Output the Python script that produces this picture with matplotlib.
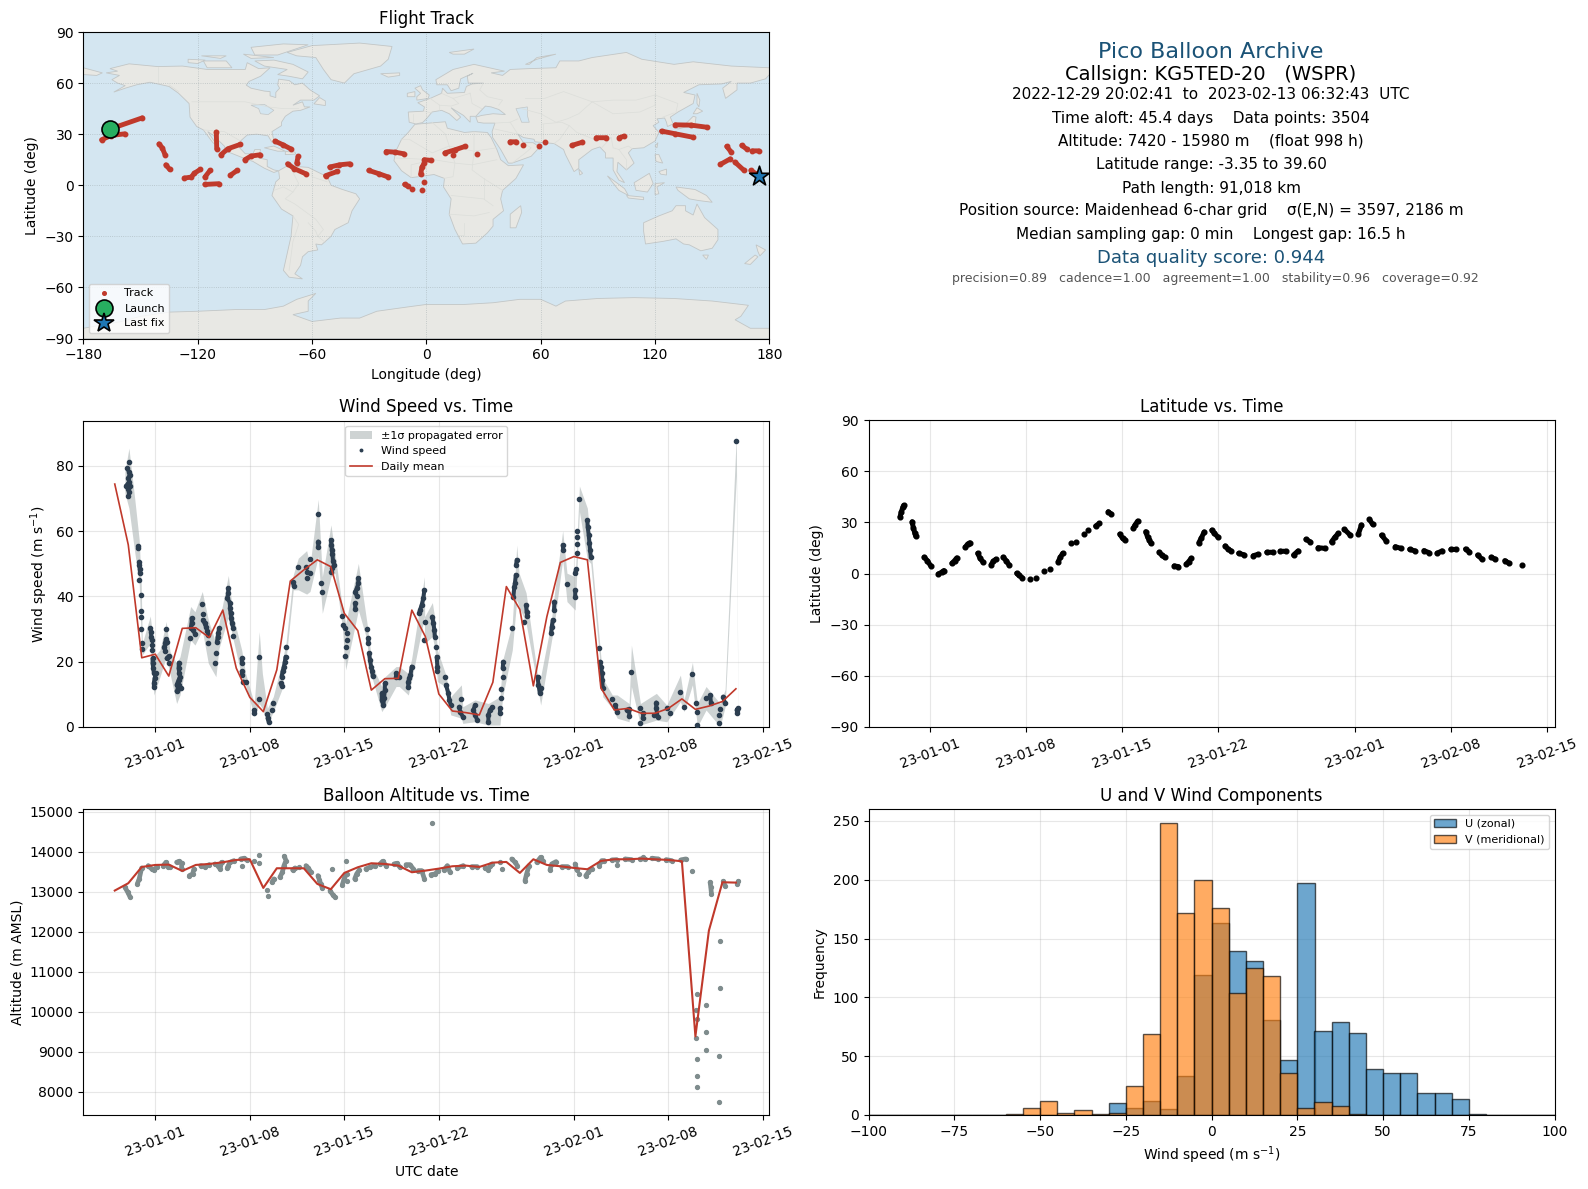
import datetime as dt
import numpy as np
import matplotlib
matplotlib.use("Agg")
import matplotlib.pyplot as plt
import matplotlib.dates as mdates
from matplotlib.lines import Line2D
from matplotlib.patches import Polygon

# ---------- DATA (time = days since 2023-01-01) ----------
wind_runs = [
 [(-1.93,81.3)],
 [(-2.07,79.2),(-1.95,78.2),(-1.90,77.2),(-2.0,76.2),(-1.93,75.1),(-2.05,74.4),(-2.17,73.8),(-1.88,73.8),(-2.0,72.8),(-1.95,72.1)],
 [(-2.0,70.6)],
 [(-1.26,55.4),(-1.26,54.7)],
 [(-1.19,50.6),(-1.19,49.6),(-1.14,48.3),(-1.14,47.1)],
 [(-1.19,45.0)],[(-1.06,40.4)],[(-1.04,35.4)],[(-1.04,33.8)],[(-1.04,29.9)],[(-1.01,25.6)],[(-0.96,23.8)],
 [(-0.37,30.2),(-0.32,29.2),(-0.30,27.7),(-0.25,26.6)],[(-0.27,25.1)],[(-0.22,23.6)],
 [(-0.20,21.0),(-0.20,19.5),(-0.15,18),(-0.10,16.4),(0.05,16.4),(-0.05,14.9),(-0.10,13.6),(-0.10,12.4)],
 [(0.81,29.9)],
 [(0.79,26.9),(0.72,25.6),(0.89,26.1),(0.64,24.4),(0.74,23.4)],[(0.99,21.7),(0.84,21)],[(1.04,19.5)],
 [(1.75,19.7),(1.73,18),(1.78,16.4),(1.83,15.4),(1.73,14.4),(1.58,12.9),(1.93,11.8),(1.58,11)],[(1.78,12.9),(1.66,11.8)],
 [(2.69,33.3),(2.69,31.8),(2.62,30.2)],[(2.81,29.7),(2.94,28.5)],[(2.60,27.4)],
 [(3.48,37.6)],[(3.53,34.5)],[(3.53,32.8),(3.65,31.8),(3.75,30.7),(3.85,29.5),(3.93,28.2)],[(3.93,25.8)],
 [(4.49,22.6)],[(4.44,19.5)],
 [(4.72,30.2),(4.67,28.7),(4.62,27.7),(4.57,26.1)],
 [(5.41,42.5),(5.41,40.9),(5.33,39.4),(5.53,38.1),(5.53,36.3),(5.58,34.8),(5.63,33.3),(5.68,31.8),(5.78,30.2)],[(5.73,27.9)],
 [(6.40,21),(6.42,19.5)],[(6.40,17),(6.45,15.9)],[(6.52,13.9),(6.69,13.7)],
 [(7.33,5.2),(7.33,4.2)],[(7.70,21.5)],[(7.70,8.5)],
 [(8.30,4)],[(8.32,2.7),(8.40,1.6)],[(8.67,5.2)],[(8.74,7.5)],
 [(9.28,13.4),(9.36,12.6)],[(9.36,15.4),(9.43,17),(9.53,18.5),(9.60,20),(9.65,21.5)],[(9.68,24.4)],
 [(10.2,44.5),(10.25,43.2)],[(10.6,48.9)],
 [(11.16,49.1)],[(11.21,47.4)],[(11.21,45.5)],[(11.46,51.4)],[(11.46,47.1)],
 [(12.07,65.2)],[(12.07,56.8),(12.07,55)],[(12.3,44)],[(12.37,41.2)],
 [(13.0,57.3),(13.05,55.7),(13.07,54.2),(13.12,53),(13.16,50.9),(13.24,49.6),(13.12,48.6)],[(12.99,47.6)],
 [(13.85,34.1)],[(13.93,31.2),(14.05,30.2)],[(14.17,28.9)],[(14.17,26.6)],[(14.10,24.4)],[(14.08,21.7)],
 [(15.04,45.5),(15.04,44),(14.93,42.5),(14.81,41.4),(14.93,40.1)],[(14.81,37.9),(14.81,36)],
 [(15.68,29.9)],[(15.78,27.2),(15.78,25.6)],[(15.83,22.6),(15.9,20.5),(15.98,18.5),(16.07,17),(16.1,15.6)],
 [(16.77,10.3),(16.77,8.3),(16.89,6.7),(16.94,8.8),(17,11.3),(17,13.4)],
 [(17.83,16.4),(17.83,15.4),(18.07,15.4)],
 [(18.99,18.5),(18.9,15.9),(18.8,14.9),(18.74,13.9),(18.74,12.4)],
 [(19.93,42),(19.85,39.4),(19.73,37.4),(19.6,35.8),(19.55,34.8)],[(19.95,32.1)],[(19.9,26.6)],
 [(20.52,33.8),(20.59,31.8),(20.67,29.7),(20.7,27.7)],[(20.79,24.6)],[(20.84,21.5),(20.89,18.5),(20.89,17)],
 [(21.48,15.4)],[(21.53,12.9),(21.7,10.3),(21.78,8.3),(21.88,6.7)],
 [(22.52,6.2),(22.57,4.7),(22.77,3.2)],[(22.67,8.5)],
 [(23.68,6.7),(23.56,5.2),(23.68,3.7),(23.85,2.1)],
 [(24.95,6.0),(24.79,5.2),(24.67,3.7),(24.67,1.6)],
 [(25.53,5.7),(25.53,4.2)],[(25.63,8.8)],[(25.63,11.5)],[(25.73,15.2)],[(25.73,18),(25.77,20)],
 [(26.44,30.2)],[(26.52,39.9),(26.59,43),(26.64,44.2),(26.7,46.6)],[(26.72,49.6),(26.77,51.2)],
 [(27.33,32.1)],[(27.46,37.4),(27.5,35.3),(27.56,34)],
 [(28.31,15.4),(28.38,12.9),(28.48,10.3),(28.59,11.8)],
 [(29.31,28.7),(29.36,30.7),(29.44,32.8)],[(29.53,35.8),(29.56,38.4)],
 [(30.17,55.7),(30.22,54.2)],[(30.5,43.8)],
 [(31.09,47.1),(31.16,48.3)],[(31.1,42),(31.1,39.7)],[(31.21,53.2)],[(31.21,55.9)],[(31.26,58.3)],[(31.26,60.1)],
 [(31.41,69.7)],
 [(32.0,63.4),(32.02,61.4),(32.1,58.8),(32.15,56.3),(32.2,54.2),(32.25,52.2)],
 [(32.89,24.1)],[(32.94,20),(33,18.5),(33.09,16.4),(33.1,14.4),(33.14,11.8)],
 [(33.85,8.5)],[(34.05,6.7),(34.21,4.7)],[(34.9,5.2),(35.1,5.5),(35.1,3.4)],
 [(35.26,16.7)],[(35.93,5.7)],[(35.93,1.1)],[(36.15,4.2),(36.1,2.7)],[(36.9,3.7)],[(37.1,7.5),(37.1,5.7),(37.2,3.2)],
 [(37.9,5.7)],[(38.12,4.2)],[(38.89,10.6)],[(39.16,6.2)],[(39.78,16.2)],
 [(40.07,7.2)],[(40.15,4.7)],[(40.1,0.6)],
 [(40.79,8.8)],[(41.1,9.8),(41.15,7.2)],[(41.83,5.4)],[(41.78,3.7)],[(41.78,1.1)],[(42.06,9.3),(42.19,7.2)],
 [(43.0,87.5)],[(43.05,5.2),(43.13,5.7),(43.08,4.4)],
]
band_t = [-2.25,-1.95,-1.51,-1.19,-1.04,-.96,-.37,-.22,-.10,.35,.81,1.09,1.58,1.83,2.62,2.94,3.48,3.93,4.49,4.72,5.41,5.78,6.40,6.69,7.33,7.70,7.93,8.30,8.74,9.36,9.68,10.22,10.59,11.21,11.46,12.07,12.37,13.01,13.31,13.85,14.10,15.04,15.68,15.83,16.10,16.77,17.01,17.83,18.07,18.74,18.99,19.93,19.95,20.52,20.72,20.89,21.48,21.88,22.67,22.77,23.68,24.67,25.53,25.73,26.44,26.77,26.94,27.46,28.31,28.54,29.31,29.56,30.17,30.49,31.10,31.41,32.0,32.25,32.89,33.14,33.85,34.21,35.09,35.26,35.93,37.11,37.88,38.89,39.16,39.78,40.15,40.79,41.83,42.2,43.03,43.15]
band_hi = [78.2,85.4,69.5,57.3,44.0,25.6,34.0,28.7,21.5,23.6,32.3,23.1,19.5,21.5,36.9,35.3,41.5,32.8,25.6,31.8,46.4,33.8,23.6,16.4,7.2,29.2,16.4,5.7,9.3,19.5,25.6,46.6,51.7,54.0,49.6,69.7,46.0,61.9,53.2,36.9,31.8,50.1,31.8,26.6,18.5,12.4,15.4,18.5,18.5,16.4,21.0,46.0,33.8,38.1,32.8,23.6,16.4,9.3,12.9,6.2,8.3,7.2,9.3,20.5,31.8,55.7,47.1,41.1,15.9,15.4,31.8,40.9,60.1,47.1,46.0,73.8,67.0,55.2,26.6,14.9,9.8,9.8,7.2,25.1,7.2,10.3,6.7,15.9,8.3,19.8,7.2,12.4,7.2,11.5,89.6,8.3]
band_lo = [71.6,67.0,53.2,44.0,26.6,22.1,25.6,16.4,9.8,15.4,21.5,16.4,7.2,9.8,26.6,25.1,29.7,19.5,15.4,24.1,33.8,26.6,15.4,12.9,3.2,7.2,5.7,0.6,4.7,11.3,20.5,42.0,42.0,40.7,41.5,52.2,34.8,46.0,47.1,30.7,17.5,35.8,26.6,17.5,14.4,4.7,6.2,12.4,12.4,9.8,14.4,33.8,25.6,27.7,23.6,13.9,12.4,3.7,2.7,1.1,1.6,0.6,0.6,9.3,23.6,38.9,36.9,31.8,12.4,6.7,25.6,31.8,51.2,38.4,35.8,66.0,51.2,50.1,21.5,9.3,5.7,2.7,1.6,12.4,0.6,2.1,1.6,7.8,4.7,12.9,0.1,5.2,0.1,6.2,77.0,2.7]
daily_t = list(range(-3, 44))
wind_daily = [74.4,55.8,21.2,22.3,15.6,30.2,30.4,27.4,35.8,18,9.1,4.7,17.5,44.7,48.1,51.2,49.1,34.8,29.5,11.3,14.8,14.9,35.8,27.7,10.1,4.9,4.4,3.7,13.7,43,36,12.6,33.8,50.4,52.2,51.2,12,5.2,5.7,4.2,4.2,5.7,8.6,5.4,6.4,7.8,11.7]
alt_daily = [13034,13217,13625,13675,13683,13525,13675,13700,13742,13800,13817,13100,13592,13592,13592,13200,13067,13475,13617,13717,13700,13658,13492,13533,13583,13642,13658,13625,13733,13750,13475,13817,13675,13642,13600,13567,13775,13817,13817,13833,13817,13800,13767,9385,12033,13242,13233]
lat_runs = [
 [(-2.15,33.3),(-2.05,36.3),(-1.95,38.8),(-1.89,40)],[(-1.27,30.4),(-1.17,26.5),(-1.07,23.6),(-1.01,22)],
 [(-.39,9.6),(-.16,7.6),(.07,4.7)],[(.65,-0.2),(.88,.8),(1.04,1.8)],[(1.63,6),(1.82,7.6),(1.98,9.2)],
 [(2.6,15.4),(2.77,17.3),(2.93,18.1)],[(3.51,11.9),(3.68,9),(3.91,6.6)],[(4.49,5.3),(4.65,7.2),(4.82,8.4)],
 [(5.37,9.6),(5.6,7.4),(5.79,5.1)],[(6.35,.2),(6.51,-1),(6.74,-2.3)],[(7.35,-3.3)],[(7.74,-2.5)],[(8.33,1.8)],[(8.75,2.7)],
 [(9.37,7),(9.53,9.6),(9.7,11.9)],[(10.32,17.7)],[(10.64,18.5)],[(11.23,23.2)],[(11.55,25.5)],[(12.1,27.9),(12.37,29.4)],
 [(13.02,36.3),(13.24,34.9)],[(13.86,23.2),(14.06,20.7),(14.25,19.7)],[(14.84,26.5),(14.97,28.5),(15.16,30.8)],
 [(15.75,24.6),(15.88,21.6),(16.01,19.7),(16.14,17.7)],[(16.73,12.5),(16.92,10.9),(17.12,9.6)],[(17.83,4.5),(18.13,4.1)],
 [(18.71,5.5),(18.87,7),(19.07,9)],[(19.62,18.1),(19.79,20.7),(20.01,24.4)],[(20.57,25.5),(20.76,23.6),(20.99,21.6)],
 [(21.54,16.2),(21.74,14.4),(21.96,13.3)],[(22.52,11.9),(22.88,11.1)],[(23.59,10.5),(23.92,11.3)],[(24.57,12.5),(24.99,12.5)],
 [(25.55,13.1),(25.94,13.1)],[(26.52,10.9),(26.85,13.3)],[(27.43,20.1),(27.72,18.7)],[(28.31,15.2),(28.8,14.8)],
 [(29.29,18.7),(29.52,21.2),(29.78,23.6)],[(30.23,25.9),(30.65,22.6)],[(31.24,23.2),(31.47,28.5)],[(32.05,31.8),(32.28,28.9)],
 [(32.93,22.6),(33.26,19.3)],[(33.94,15.8),(34.33,14.8)],[(34.98,14.2),(35.37,13.3)],[(36.02,13.5),(36.38,12.3)],
 [(36.98,11.9),(37.33,13.3)],[(37.98,14.2),(38.33,14.2)],[(39.05,14.4),(39.31,12.9)],[(39.93,10.9),(40.25,8.4)],
 [(40.93,9.6),(41.23,8.4)],[(41.91,7.6),(42.24,6)],[(43.18,5.1)],
]
alt_runs = [
 [(-2.25,13117),(-2.05,13000),(-1.88,12883)],[(-1.33,13200),(-1.19,13325),(-1.01,13600)],
 [(-.52,13658),(-.27,13575),(-.1,13550),(.15,13633)],[(.59,13658),(.79,13742),(.96,13633),(1.09,13633)],
 [(1.58,13742),(1.78,13767),(1.95,13717),(1.95,13575)],[(2.52,13408),(2.77,13450),(2.86,13575)],
 [(3.36,13658),(3.68,13633),(4,13683)],[(4.42,13700),(4.67,13658),(4.79,13575),(4.91,13742)],
 [(5.33,13600),(5.41,13658),(5.53,13742),(5.83,13783)],[(6.32,13825),(6.57,13842),(6.77,13800)],[(6.42,13650)],
 [(7.33,13767)],[(7.7,13925)],[(7.7,13725)],[(8.3,13058)],[(8.32,12900)],[(8.64,13242),(8.79,13325)],
 [(9.23,13367),(9.41,13492),(9.53,13658),(9.68,13783),(9.56,13892)],[(10.17,13550),(10.35,13600)],[(10.62,13633)],
 [(11.16,13658),(11.33,13600),(11.5,13508)],[(12.05,13408),(12.15,13300),(12.25,13200),(12.37,13100)],[(13.06,13583)],
 [(12.94,13033),(13.14,12933),(13.31,12867)],[(13.85,13175),(13.98,13325),(14.17,13450)],[(14.22,13283)],[(14.15,13767)],
 [(14.77,13325),(14.91,13450),(15.11,13550)],[(15.6,13575),(15.9,13617),(16.27,13658)],[(16.64,13700),(16.84,13767),(17.09,13658)],
 [(17.68,13700),(17.88,13717),(18.12,13617)],[(18.57,13683),(18.86,13683),(19.11,13575)],[(19.48,13533),(19.73,13533),(19.93,13325)],
 [(20.51,14716)],[(20.42,13433),(20.72,13450),(20.96,13533)],[(21.38,13550),(21.63,13658),(21.83,13492)],[(22.37,13600),(22.81,13658)],
 [(23.43,13633),(23.85,13633)],[(24.42,13600),(24.67,13550),(24.79,13658),(24.91,13700)],[(25.53,13742)],[(25.65,13575)],
 [(26.4,13825),(26.64,13742),(26.81,13658)],[(27.38,13283),(27.5,13450),(27.68,13658)],[(28.25,13742),(28.54,13867),(28.69,13783)],
 [(29.23,13550),(29.36,13700),(29.68,13758)],[(30.1,13633),(30.54,13633)],[(31.09,13700),(31.21,13550)],[(31.41,13450)],
 [(31.88,13408),(32.07,13492),(32.32,13575)],[(32.86,13658),(33.06,13783),(33.26,13783)],[(33.8,13800),(34.17,13808)],[(34.21,13683)],
 [(34.79,13825),(35.28,13808)],[(35.91,13825),(36.27,13825)],[(36.1,13867)],[(36.77,13842),(37.26,13825)],[(37.83,13808),(38.25,13783)],
 [(38.91,13800),(39.28,13825)],[(39.78,13533)],
 [(41.09,13242),(41.14,13117),(41.19,12950)],[(42.07,13267),(42.19,13158)],[(43.11,13200),(43.19,13267)],
 [(40.15,10450)],[(40.05,10035)],[(40.15,9827)],[(40.05,9350)],[(40.15,8825)],[(40.15,8400)],[(40.15,8127)],
 [(40.81,10175)],[(40.81,9500)],[(40.81,9050)],[(41.85,11775)],[(41.85,10600)],[(41.78,8900)],[(41.78,7750)],
]
track_runs = [
 [(-166,33),(-149,39.6)],[(-170.4,26.7),(-165.5,29.2),(-158.3,30.2)],[(-140.3,24.3),(-138.6,22),(-137.1,17.9)],[(-136.7,12),(-134.7,9.3)],
 [(-127,4.2),(-123.4,4.8),(-121.7,7.1),(-118.6,9.3)],[(-116.2,4.8),(-113.5,8.7)],[(-116.2,.5),(-109,.9)],[(-102.9,5.8),(-99.3,8.7)],
 [(-110.2,31.2),(-110,21.4)],[(-107.8,17.9),(-104.2,21.4),(-97.6,24)],[(-95.2,15),(-92.1,17.1),(-87.3,17.9)],[(-79.4,25.9),(-75.3,23.8),(-71.2,21.4)],
 [(-72.8,12.6),(-69.2,9.7),(-63.2,6.7)],[(-68,13),(-67.3,16.9)],[(-52.9,5.6),(-46.8,8.1)],[(-50.7,10.7),(-45.6,12),(-40.3,12.6)],
 [(-30.2,8.7),(-24.7,6.7),(-19.9,4.8)],[(-21.1,19.8),(-16.3,19.4),(-11.9,18.5)],[(-11.4,.5),(-9.8,-.5)],[(-7.4,-2)],[(-2.5,-3)],[(-1.3,1.9)],
 [(-3,6.4),(-2.3,10.7),(-1.1,13)],[(-1.1,15),(2.5,14.6)],[(9.7,19),(15,20.8),(20.3,22.8)],[(13.8,17.9)],[(26.4,18.5)],
 [(43.9,25.5),(47.1,25.5)],[(50.7,23.8)],[(59.1,23.2)],[(62.5,25.5)],[(76.4,23.4),(81.9,25.3)],[(89.2,27.9),(94.5,27.9)],[(101.2,27.9),(103.6,28.8)],
 [(123.4,31.8),(130.6,30.2),(139.8,28.2)],[(130.6,35.5),(139,35.3),(147,34.1)],[(157.6,22.8),(160,19.4)],[(154.2,12.2),(159.5,15.5)],
 [(161.9,13.6),(166.7,8.7)],[(165.5,23.4),(168.4,21)],[(171,20.2),(174.4,20.2)],[(170.3,8.7),(174.4,5.8)],
]
launch_lon, launch_lat = -166.0, 33.1
last_lon, last_lat = 174.4, 5.5

hist_edges = list(range(-100, 100, 5))
u_counts = [0]*14 + [10,6,12,5,33,119,163,139,131,81,47,197,71,79,70,39,36,36,19,19,14,1] + [0]*4
v_counts = [0]*8 + [1,6,12,2,4,1] + [2,25,69,248,172,200,176,104,125,118,36,6,11,8,1] + [0]*11

land_polys = [
 # North America
 [(-168,66),(-162,67),(-166,68.5),(-156,71.3),(-141,69.7),(-128,70),(-115,68),(-108,68),(-95,68),(-94,72),(-88,68.5),(-82,69),(-85,66),(-87,64),(-93,61),(-94.5,58.8),(-92,57),(-85,55.3),(-82,55),(-82,52.5),(-79,51.5),(-79,54.5),(-77,57),(-78,59),(-77.5,62.3),(-72,61.5),(-69,59),(-65,60),(-61,56),(-56,52.5),(-59,50),(-66,50),(-70,47),(-65,49),(-64,46),(-61,46),(-66,44),(-70,43.5),(-74,40.5),(-76,37),(-76,35),(-81,31.5),(-80,26),(-81,25.2),(-83,29),(-89,30),(-94,29.5),(-97.5,26),(-98,22),(-95,18.5),(-91,18.5),(-90,21),(-87,21),(-88,16),(-83.5,15),(-83.5,11),(-80,9),(-77.5,8.5),(-80,7.5),(-85,10),(-91,14),(-96,16),(-105,20),(-106,23),(-112,29.5),(-114.7,31.5),(-112,27),(-109.5,23),(-112,25),(-117,32.5),(-120.5,34.5),(-124,40),(-124.5,48),(-130,54),(-135,58),(-145,60.5),(-152,59),(-158,57),(-164,54.7),(-158,58.5),(-162,60),(-165,62),(-161,64.5)],
 # Greenland and Arctic islands
 [(-73,78),(-60,82),(-35,83.5),(-18,81.5),(-20,74),(-24,70),(-38,65.5),(-43,60),(-50,62),(-54,68),(-58,75),(-68,76)],
 [(-80,73.5),(-70,71),(-62,66.5),(-65,62.5),(-72,64),(-78,65),(-73,68),(-85,70),(-90,73)],
 [(-117,73),(-105,73),(-102,69),(-115,69)],[(-125,74),(-116,73.5),(-120,71.5),(-125,72)],
 [(-90,76.5),(-78,76.5),(-62,82.5),(-75,83),(-92,81)],[(-96,77),(-80,75),(-92,74.5)],[(-118,76),(-105,76),(-108,74.5)],
 [(-59,47.8),(-53,46.8),(-53,49.5),(-56,51.5)],
 [(-85,22),(-80,23),(-74,20),(-78,20)],[(-74,19.8),(-69,19.5),(-68.5,18.3),(-74,18)],
 # South America
 [(-77.5,8.5),(-72,12),(-68,11),(-62,10.5),(-52,5),(-50,0),(-44,-2.5),(-37,-5),(-35,-8),(-39,-15),(-41,-22),(-48,-26),(-50,-30),(-55,-35),(-58,-34.5),(-57,-38),(-62,-39),(-65,-42),(-66,-47),(-69,-52),(-65,-55),(-72,-54),(-75,-50),(-73,-40),(-71,-30),(-70,-18),(-76,-14),(-81,-6),(-80,-2),(-79,2),(-77,4)],
 # Africa, Madagascar
 [(-6,35.8),(10,37.3),(11,33.5),(20,31),(25,31.5),(32,31),(34,28),(37,21),(39,15),(43,11.5),(51,12),(47,4),(40,-3),(39,-8),(40.5,-15),(35,-20),(35,-24),(32,-28),(26,-34),(19,-34.5),(15,-26),(12,-17),(13,-8),(9,-1),(9.5,4),(4,6.3),(-4,5),(-8,4.5),(-13,8.5),(-17,14.5),(-16,20),(-13,27),(-9.5,31)],
 [(49.5,-12),(50,-16),(47,-25),(44,-25),(44,-17)],
 # Eurasia
 [(-9,37),(-9.5,43),(-1.5,43.5),(-1,46),(-4.5,48.5),(2,51),(8,54),(8.5,57),(11,54),(20,54.5),(21,58),(24,59.5),(30,60),(22,60),(21.5,64),(24.5,65.8),(18,62.5),(17,57),(13,55.5),(11,59),(5.5,59),(5,62),(14,68),(25,71),(41,67),(34,66),(40,64.5),(44,68),(54,68.5),(68,69),(70,73),(80,73),(87,75),(105,78),(113,74),(130,71),(140,72.5),(160,70),(180,69),(180,65),(178,62.5),(170,60),(163,60),(163,56),(157,51),(155.5,57),(160,61),(155,59.5),(143,59),(135,54.5),(141,53),(140,48),(132,43),(128,40),(129.5,36),(126.5,34.5),(126,37),(125,39.5),(121,39),(122,37),(119,35),(122,31),(120,26),(114,22),(108,21.5),(106,19),(109,13),(105,9),(100.5,13.5),(100,8),(104,1.5),(101,3),(98,9),(98,16),(94,16),(94,19),(91,22.5),(87,21),(80,15),(80,10),(77.5,8),(73,18),(72,21),(67,24.5),(57,25.5),(56.5,27),(51,28),(48,30),(51,25),(56,25),(59.5,22.5),(55,17),(45,13),(43,13),(39,21),(34.8,28),(34.5,31.5),(36,36.5),(30,36.5),(27,37),(26,40),(29,41),(35,42),(41.5,41.5),(38,44.5),(34,46),(31,46.5),(28,43),(26,40.5),(23,40.5),(23,37),(19.5,41),(13,45.5),(18,40),(16,38),(12,42),(8,44),(3,43),(0,39),(-2,36.8),(-5.5,36)],
 [(-180,69),(-170,66),(-173,64.5),(-180,65)],
 # European and Asian islands
 [(-5,50),(1,51),(1.5,53),(-2,56),(-3,58.5),(-6,57),(-3,54),(-5,52)],[(-10,52),(-6,52),(-6,55),(-10,54)],[(-24,65.5),(-14,66),(-14,64.5),(-20,63.5)],
 [(12,78),(25,80),(20,77),(14,77)],[(52,71),(58,74),(68,77),(58,75),(54,71)],[(142,54),(143.5,50),(143,46),(142,48)],
 [(131,34),(136,36),(140,40.5),(141.5,40),(141,36),(137,34.5),(132,33)],[(140,42),(142,45.5),(145,43.5),(142,42)],
 [(120,23),(121.5,25),(121,22)],[(120,18),(122,18),(124,13),(120.5,14)],[(122,8),(126,9.5),(126,6),(123,6.5)],
 [(109,1.5),(117,7),(119,1),(116,-4),(110,-3)],[(95,5.5),(104,-2),(106,-6),(101,-3)],[(105,-6),(114,-7),(114,-8.5),(106,-7.5)],
 [(120,1),(125,1.5),(121,-1),(122,-5),(120,-5.5)],[(131,-1),(141,-2.5),(147,-6),(150,-10),(143,-9),(138,-8),(132,-3)],
 [(80,9.5),(82,7),(80.5,6)],
 # Australia and New Zealand
 [(114,-22),(122,-18),(129,-15),(131,-12),(136,-12),(136,-15),(140,-17.5),(142,-11),(146,-19),(153,-26),(153,-32),(150,-37),(144,-38.5),(138,-35),(135,-34.5),(131,-31.5),(124,-33),(115,-34.5),(114,-27)],
 [(145,-41),(148,-41),(147,-43.5)],[(173,-35),(178,-38),(175,-41.5),(174,-39)],[(172.5,-41),(174,-42),(170,-46.5),(167,-46)],
 # Antarctica
 [(-180,-90),(-180,-84),(-160,-80),(-150,-77),(-135,-74.5),(-120,-74),(-100,-73),(-85,-73),(-75,-71),(-68,-67),(-58,-63.5),(-62,-68),(-62,-74),(-70,-76),(-60,-80),(-45,-78),(-35,-78),(-26,-74),(-10,-71.5),(0,-70),(20,-70),(35,-69),(49,-67),(60,-67),(68,-71),(73,-68),(90,-66.5),(109,-66),(130,-66.5),(150,-68),(169,-70.5),(165,-77),(162,-79),(170,-84),(180,-84),(180,-90)],
]
water_polys = [
 [(47,45),(53,46),(53,41),(54,37),(50,37),(49,40)],
 [(-92,47),(-85,47.5),(-80,44),(-83,41.5),(-87,42),(-88,45)],
]
border_lines = [
 [(-141,69.7),(-141,60)],[(-135,59),(-130,55)],[(-123,49),(-95,49),(-83,46),(-75,45),(-67,45)],[(-117,32.5),(-106,31.5),(-97.5,26)],
 [(-92,14.5),(-91,18)],[(-72,12),(-67,1),(-70,-4),(-74,-8),(-69,-11),(-58,-20),(-54,-26),(-57,-30),(-53,-33.5)],[(-70,-18),(-67,-23),(-70,-33),(-72,-50)],
 [(-60,8),(-60,5),(-52,2)],[(-80,-3),(-75,-1),(-70,-4)],[(-62,-22),(-58,-27),(-57,-30)],
 [(-13,27),(-9,27),(3,19),(12,23),(25,20),(37,22)],[(25,31.5),(25,20),(24,9),(30,4),(40,-3)],[(3,37),(10,30),(12,23),(15,13),(14,5),(9,4)],[(-16,16),(4,15),(15,13),(24,12),(37,15)],
 [(13,-6),(30,-8),(35,-12)],[(12,-17),(25,-18),(33,-16)],[(20,-22),(20,-29),(17,-29)],[(30,4),(30,-8)],[(-8,4.5),(-8,12),(4,15)],
 [(2,51),(7,47),(7,44)],[(-1.5,43.5),(3,42.5)],[(-7,37),(-7,42)],[(8,54),(14,51),(23,54)],[(14,51),(17,48),(13,46.5),(7,47)],[(23,54),(24,48),(29,45)],[(30,60),(28,56),(32,52),(40,50),(38,47)],
 [(48,30),(44,37),(36,36.5)],[(44,37),(48,39)],[(61,36),(61,25)],[(48,30),(40,32),(36,33)],[(45,13),(52,19),(55,22),(52,24)],[(61,36),(71,37),(75,35),(70,27),(67,24.5)],
 [(75,35),(79,31),(88,27),(97,28),(92,22)],[(97,28),(98,22),(101,21),(106,23),(108,21.5)],[(101,21),(105,15),(105,9)],
 [(50,45),(60,42),(68,37),(74,39),(80,42),(87,49),(98,50),(110,50),(120,53),(132,48),(131,43)],[(87,49),(98,42),(112,43),(120,47),(120,53)],[(124,40),(130,42.5)],[(52,51),(62,51),(72,55),(87,49)],
]
info_title = "Pico Balloon Archive"
info_call = "Callsign: KG5TED-20   (WSPR)"
info_lines = ["2022-12-29 20:02:41  to  2023-02-13 06:32:43  UTC",
 "Time aloft: 45.4 days    Data points: 3504",
 "Altitude: 7420 - 15980 m    (float 998 h)",
 "Latitude range: -3.35 to 39.60",
 "Path length: 91,018 km",
 "Position source: Maidenhead 6-char grid    σ(E,N) = 3597, 2186 m",
 "Median sampling gap: 0 min    Longest gap: 16.5 h"]
info_quality = "Data quality score: 0.944"
info_sub = "precision=0.89   cadence=1.00   agreement=1.00   stability=0.96   coverage=0.92"

# ---------- HELPERS ----------
W, H = 1588, 1189
EPOCH = mdates.date2num(dt.datetime(2023, 1, 1))
RED, NAVY, GREY, BLUE = "#c0392b", "#2c3e50", "#7f8c8d", "#1a5276"

def flat(runs):
    xs, ys = [], []
    for r in runs:
        for p in r:
            xs.append(p[0]); ys.append(p[1])
        xs.append(np.nan); ys.append(np.nan)
    return np.array(xs, float), np.array(ys, float)

def axes_px(x0, x1, y0, y1):
    return fig.add_axes([x0/W, 1-y1/H, (x1-x0)/W, (y1-y0)/H])

def time_axis(ax, x0, x1):
    ax.set_xlim(EPOCH+x0, EPOCH+x1)
    ax.xaxis.set_major_locator(mdates.DayLocator(bymonthday=[1, 8, 15, 22]))
    ax.xaxis.set_major_formatter(mdates.DateFormatter("%y-%m-%d"))
    plt.setp(ax.get_xticklabels(), rotation=20)
    ax.grid(alpha=0.3)

fig = plt.figure(figsize=(W/100, H/100), dpi=100)
L0, L1, R0, R1 = 83.3, 769.4, 868.6, 1554.6

# ---------- MAP ----------
ax = axes_px(L0, L1, 32, 338.5)
ax.set_facecolor("#d4e6f1")
for poly in land_polys:
    ax.add_patch(Polygon(poly, closed=True, fc="#e8e8e4", ec="#c2c6c6", lw=0.6, zorder=1))
for poly in water_polys:
    ax.add_patch(Polygon(poly, closed=True, fc="#d4e6f1", ec="#c2c6c6", lw=0.5, zorder=1.1))
for line in border_lines:
    a = np.array(line)
    ax.plot(a[:, 0], a[:, 1], color="#dcdeda", lw=0.5, zorder=1.2)
ax.grid(True, ls=":", color="#9aa5a8", lw=0.6, alpha=0.6)
tx, ty = flat(track_runs)
ax.plot(tx, ty, "-o", color=RED, ms=3.2, lw=3.5, solid_capstyle="round", zorder=3)
ax.scatter([launch_lon], [launch_lat], s=150, c="#27ae60", edgecolors="k", linewidths=1.2, zorder=5)
ax.scatter([last_lon], [last_lat], s=220, marker="*", c="#1f77b4", edgecolors="k", linewidths=1.2, zorder=5)
ax.set_xlim(-180, 180); ax.set_ylim(-90, 90)
ax.set_xticks(range(-180, 181, 60)); ax.set_yticks(range(-90, 91, 30))
ax.set_title("Flight Track", fontsize=12)
ax.set_xlabel("Longitude (deg)"); ax.set_ylabel("Latitude (deg)")
ax.legend(handles=[
    Line2D([], [], ls="", marker="o", ms=2.6, color=RED, label="Track"),
    Line2D([], [], ls="", marker="o", ms=12.2, mfc="#27ae60", mec="k", mew=1.2, label="Launch"),
    Line2D([], [], ls="", marker="*", ms=14.8, mfc="#1f77b4", mec="k", mew=1.2, label="Last fix")],
    loc="lower left", fontsize=8, labelspacing=0.45, borderpad=0.4, handletextpad=0.8)

# ---------- INFO ----------
def ftext(px, py, s, **kw):
    fig.text(px/W, 1-py/H, s, ha="center", va="center", **kw)
ftext(1211, 51.7, info_title, fontsize=16, color=BLUE)
ftext(1211, 75, info_call, fontsize=14)
for py, s in zip([94.5, 118, 141, 164, 188, 210.5, 234], info_lines):
    ftext(1211, py, s, fontsize=11)
ftext(1211, 258, info_quality, fontsize=13, color=BLUE)
ftext(1215, 279, info_sub, fontsize=9, color="#555555")

# ---------- WIND ----------
ax = axes_px(L0, L1, 420.7, 727)
ax.fill_between(EPOCH+np.array(band_t), band_lo, band_hi, color=GREY, alpha=0.38, lw=0, label="±1σ propagated error")
wx, wy = flat(wind_runs)
ax.plot(EPOCH+wx, wy, "-o", color=NAVY, ms=3.0, lw=2.9, solid_capstyle="round", zorder=3)
ax.plot([], [], ls="", marker="o", ms=1.8, color=NAVY, label="Wind speed")
ax.plot(EPOCH+np.array(daily_t), wind_daily, color=RED, lw=1.2, zorder=4, label="Daily mean")
time_axis(ax, -5.33, 45.48)
ax.set_ylim(0, 93.8)
ax.set_title("Wind Speed vs. Time", fontsize=12)
ax.set_ylabel("Wind speed (m s$^{-1}$)")
ax.legend(loc="upper center", fontsize=8)

# ---------- LATITUDE ----------
ax = axes_px(R0, R1, 420.2, 727)
lx, ly = flat(lat_runs)
ax.plot(EPOCH+lx, ly, "-o", color="k", ms=3.4, lw=3.6, solid_capstyle="round", zorder=3)
time_axis(ax, -4.44, 45.54)
ax.set_ylim(-90, 90); ax.set_yticks(range(-90, 91, 30))
ax.set_title("Latitude vs. Time", fontsize=12)
ax.set_ylabel("Latitude (deg)")

# ---------- ALTITUDE ----------
ax = axes_px(L0, L1, 809, 1115)
ax2x, ay = flat(alt_runs)
ax.plot(EPOCH+ax2x, ay, "-o", color=GREY, ms=2.8, lw=3.4, solid_capstyle="round", zorder=3)
ax.plot(EPOCH+np.array(daily_t), alt_daily, color=RED, lw=1.5, zorder=4)
time_axis(ax, -5.33, 45.48)
ax.set_ylim(7417, 15075)
ax.set_title("Balloon Altitude vs. Time", fontsize=12)
ax.set_xlabel("UTC date"); ax.set_ylabel("Altitude (m AMSL)")

# ---------- HISTOGRAM ----------
ax = axes_px(R0, R1, 809, 1115)
ax.bar(hist_edges, u_counts, width=5, align="edge", color="#1f77b4", edgecolor="k", lw=1.0, alpha=0.65, label="U (zonal)")
ax.bar(hist_edges, v_counts, width=5, align="edge", color="#ff7f0e", edgecolor="k", lw=1.0, alpha=0.65, label="V (meridional)")
ax.set_xlim(-100, 100)
ax.set_ylim(0, 260.1)
ax.set_axisbelow(True)
ax.grid(alpha=0.3)
ax.set_title("U and V Wind Components", fontsize=12)
ax.set_xlabel("Wind speed (m s$^{-1}$)"); ax.set_ylabel("Frequency")
ax.legend(loc="upper right", fontsize=8)

fig.savefig("out.png", dpi=100)
